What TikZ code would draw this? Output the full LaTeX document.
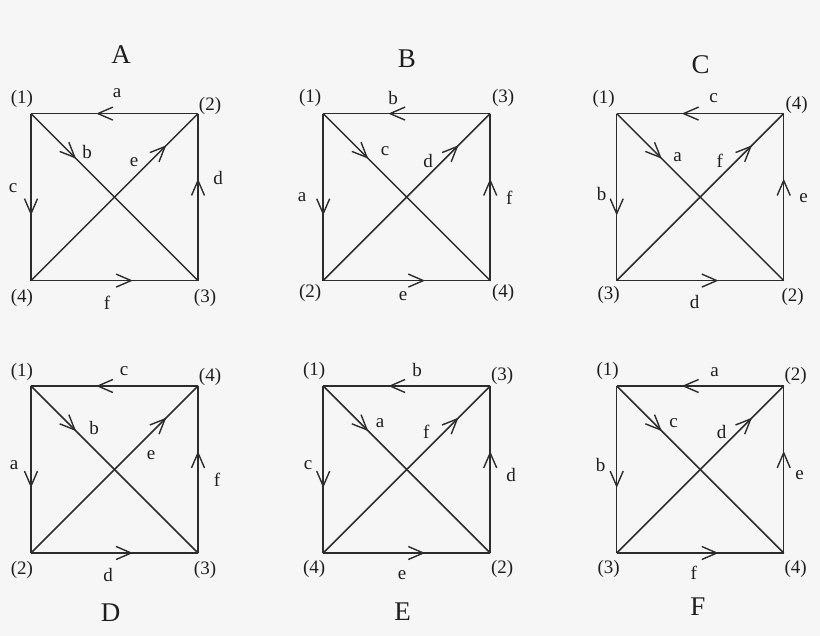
\documentclass[tikz,border=0pt]{standalone}
\usepackage{fontspec}
\setmainfont{Liberation Serif}
\usetikzlibrary{arrows.meta,decorations.markings}
\definecolor{bgc}{HTML}{F6F6F6}
\definecolor{linec}{HTML}{2C2C2C}
\definecolor{textc}{HTML}{1E1E1E}
\tikzset{
  edge/.style={draw=linec,line width=1.5pt},
  barb/.tip={Straight Barb[length=15pt,width=13pt,line width=1.4pt]},
  arrmid/.style={postaction={decorate},decoration={markings,mark=at position 0.61 with {\arrow[linec]{barb}}}},
  arrearly/.style={postaction={decorate},decoration={markings,mark=at position 0.27 with {\arrow[linec]{barb}}}},
  arrlate/.style={postaction={decorate},decoration={markings,mark=at position 0.81 with {\arrow[linec]{barb}}}},
  lbl/.style={inner sep=0pt,text=textc,font=\fontsize{19}{19}\selectfont},
  ttl/.style={inner sep=0pt,text=textc,font=\fontsize{27}{27}\selectfont}
}
\newcommand\kframe[1]{%
  \coordinate (#1tl) at (0,0);
  \coordinate (#1tr) at (167,0);
  \coordinate (#1bl) at (0,167);
  \coordinate (#1br) at (167,167);
  \draw[edge,arrmid] (#1tr) -- (#1tl);
  \draw[edge,arrmid] (#1tl) -- (#1bl);
  \draw[edge,arrmid] (#1bl) -- (#1br);
  \draw[edge,arrmid] (#1br) -- (#1tr);
  \draw[edge,arrearly] (#1tl) -- (#1br);
  \draw[edge,arrlate] (#1bl) -- (#1tr);
}
\begin{document}
\begin{tikzpicture}[x=1pt,y=-1pt]
\fill[bgc] (0,0) rectangle (820,636);
\useasboundingbox (0,0) rectangle (820,636);
% A
\begin{scope}[shift={(31,113.6)}]
  \kframe{A}
  \node[lbl] (A1) at (-9,-15) {(1)};
  \node[lbl] (A2) at (179,-8) {(2)};
  \node[lbl] (A4) at (-9,184) {(4)};
  \node[lbl] (A3) at (174,184) {(3)};
  \node[lbl] (Aa) at (86,-20) {a};
  \node[lbl] (Ac) at (-18,75) {c};
  \node[lbl] (Ad) at (187,64) {d};
  \node[lbl] (Af) at (76,189) {f};
  \node[lbl] (Ab) at (56,38) {b};
  \node[lbl] (Ae) at (103,49) {e};
\end{scope}
% B
\begin{scope}[shift={(323.2,113.6)}]
  \kframe{B}
  \node[lbl] (B1) at (-13,-16) {(1)};
  \node[lbl] (B3) at (180,-16) {(3)};
  \node[lbl] (B2) at (-13,179) {(2)};
  \node[lbl] (B4) at (180,179) {(4)};
  \node[lbl] (Bb) at (70,-16) {b};
  \node[lbl] (Ba) at (-21,84) {a};
  \node[lbl] (Bf) at (186,84) {f};
  \node[lbl] (Be) at (80,183) {e};
  \node[lbl] (Bc) at (62,38) {c};
  \node[lbl] (Bd) at (105,47) {d};
\end{scope}
% C
\begin{scope}[shift={(616.7,113.6)}]
  \kframe{C}
  \node[lbl] (C1) at (-13,-15) {(1)};
  \node[lbl] (C4) at (180,-9) {(4)};
  \node[lbl] (C3) at (-8,181) {(3)};
  \node[lbl] (C2) at (176,183) {(2)};
  \node[lbl] (Cc) at (97,-15) {c};
  \node[lbl] (Cb) at (-15,80) {b};
  \node[lbl] (Ce) at (187,85) {e};
  \node[lbl] (Cd) at (78,188) {d};
  \node[lbl] (Ca) at (61,44) {a};
  \node[lbl] (Cf) at (103,47) {f};
\end{scope}
% D
\begin{scope}[shift={(31,386)}]
  \kframe{D}
  \node[lbl] (D1) at (-9,-14) {(1)};
  \node[lbl] (D4) at (179,-9) {(4)};
  \node[lbl] (D2) at (-9,184) {(2)};
  \node[lbl] (D3) at (174,184) {(3)};
  \node[lbl] (Dc) at (93,-15) {c};
  \node[lbl] (Da) at (-17,79) {a};
  \node[lbl] (Df) at (186,94) {f};
  \node[lbl] (Dd) at (77,189) {d};
  \node[lbl] (Db) at (63,42) {b};
  \node[lbl] (De) at (120,69) {e};
\end{scope}
% E
\begin{scope}[shift={(323.2,386)}]
  \kframe{E}
  \node[lbl] (E1) at (-9,-15) {(1)};
  \node[lbl] (E3) at (179,-10) {(3)};
  \node[lbl] (E4) at (-9,183) {(4)};
  \node[lbl] (E2) at (179,183) {(2)};
  \node[lbl] (Eb) at (94,-16) {b};
  \node[lbl] (Ec) at (-15,79) {c};
  \node[lbl] (Ed) at (188,89) {d};
  \node[lbl] (Ee) at (79,189) {e};
  \node[lbl] (Ea) at (57,37) {a};
  \node[lbl] (Ef) at (103,46) {f};
\end{scope}
% F
\begin{scope}[shift={(616.7,386)}]
  \kframe{F}
  \node[lbl] (F1) at (-9,-15) {(1)};
  \node[lbl] (F2) at (179,-10) {(2)};
  \node[lbl] (F3) at (-8,183) {(3)};
  \node[lbl] (F4) at (179,183) {(4)};
  \node[lbl] (Fa) at (98,-14) {a};
  \node[lbl] (Fb) at (-16,79) {b};
  \node[lbl] (Fe) at (183,89) {e};
  \node[lbl] (Ff) at (77,187) {f};
  \node[lbl] (Fc) at (57,37) {c};
  \node[lbl] (Fd) at (105,46) {d};
\end{scope}
% titles
\node[ttl] (tA) at (121,55) {A};
\node[ttl] (tB) at (407,59) {B};
\node[ttl] (tC) at (700.7,65) {C};
\node[ttl] (tD) at (110.7,613) {D};
\node[ttl] (tE) at (402.7,611.7) {E};
\node[ttl] (tF) at (698,606.7) {F};
\end{tikzpicture}
\end{document}
